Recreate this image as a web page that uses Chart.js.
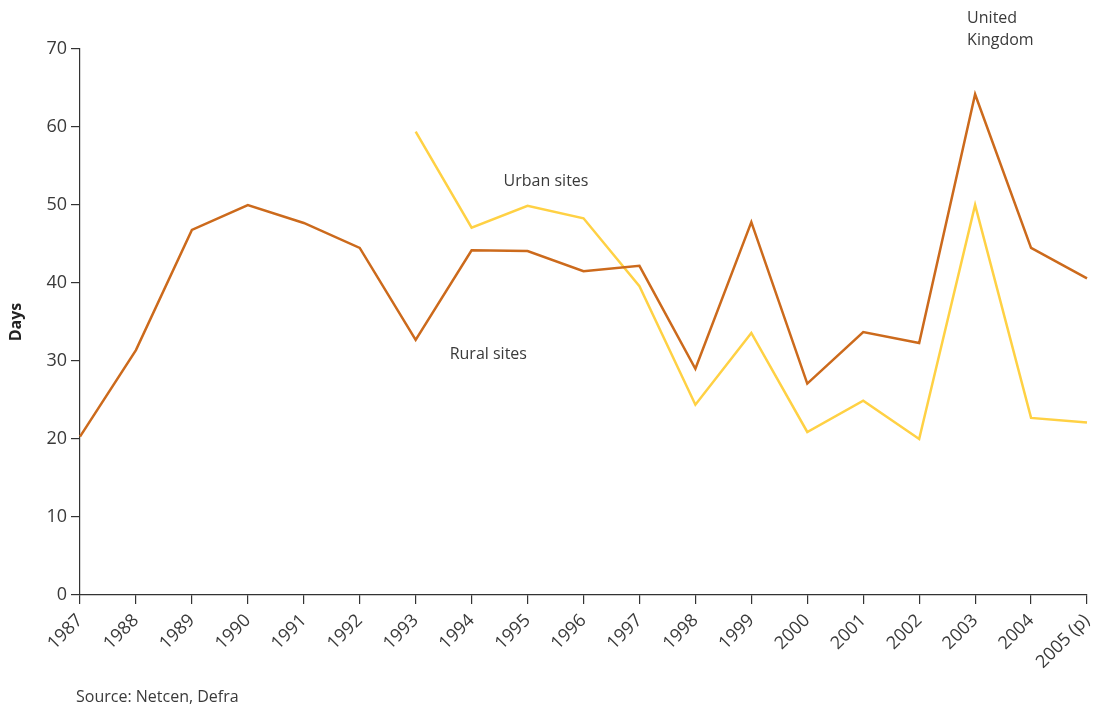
<!DOCTYPE html>
<html lang="en">
<head>
  <meta charset="UTF-8">
  <title>Days - Rural and Urban sites</title>
  <script src="https://cdn.jsdelivr.net/npm/chart.js"></script>
  <style>
    body { margin: 0; background: #ffffff; }
    #wrap { width: 1104px; height: 709px; position: relative; }
  </style>
</head>
<body>
  <div id="wrap"><canvas id="chart" width="1104" height="709"></canvas></div>

  <script>
    // Data
    const years = ['1987', '1988', '1989', '1990', '1991', '1992', '1993', '1994', '1995', '1996',
                   '1997', '1998', '1999', '2000', '2001', '2002', '2003', '2004', '2005 (p)'];
    const ruralDays = [20.3, 31.4, 46.8, 50.0, 47.7, 44.5, 32.7, 44.2, 44.1, 41.5,
                       42.2, 29.0, 47.8, 27.1, 33.7, 32.3, 64.2, 44.5, 40.6];
    const urbanDays = [null, null, null, null, null, null, 59.4, 47.1, 49.9, 48.3,
                       39.6, 24.4, 33.6, 20.9, 24.9, 20.0, 50.0, 22.7, 22.1];
    const yTicks = [0, 10, 20, 30, 40, 50, 60, 70];

    const textColor = '#3a3a3a';
    const axisColor = '#333333';
    const fontFamily = "'Open Sans', 'Noto Sans', sans-serif";

    // Text labels placed next to the lines (anchored on the axes)
    const annotations = {
      id: 'annotations',
      afterDraw(chart) {
        const { ctx, scales: { x, y } } = chart;
        ctx.save();
        ctx.fillStyle = textColor;
        ctx.font = `16px ${fontFamily}`;
        ctx.textBaseline = 'middle';
        ctx.textAlign = 'left';
        ctx.fillText('Urban sites', x.getPixelForValue(7) + 32, y.getPixelForValue(53));
        ctx.fillText('Rural sites', x.getPixelForValue(6) + 34, y.getPixelForValue(30.8));
        ctx.fillText('United', x.getPixelForValue(16) - 8, 18);
        ctx.fillText('Kingdom', x.getPixelForValue(16) - 8, 40);
        ctx.fillText('Source: Netcen, Defra', 76, 697);
        ctx.restore();
      }
    };

    new Chart(document.getElementById('chart'), {
      type: 'line',
      data: {
        labels: years,
        datasets: [
          {
            label: 'Rural sites',
            data: ruralDays,
            borderColor: '#cc6a1c',
            borderWidth: 2.5,
            pointRadius: 0,
            tension: 0
          },
          {
            label: 'Urban sites',
            data: urbanDays,
            borderColor: '#ffd144',
            borderWidth: 2.5,
            pointRadius: 0,
            tension: 0,
            spanGaps: false
          }
        ]
      },
      options: {
        responsive: false,
        animation: false,
        layout: { padding: { top: 49, right: 17, bottom: 0, left: 0 } },
        plugins: {
          legend: { display: false },
          tooltip: { enabled: false }
        },
        scales: {
          x: {
            offset: false,
            grid: { drawOnChartArea: false, tickLength: 9, color: axisColor, lineWidth: 1.2 },
            border: { display: true, color: axisColor, width: 1.2 },
            ticks: {
              color: textColor,
              font: { family: fontFamily, size: 18 },
              minRotation: 45,
              maxRotation: 45,
              autoSkip: false,
              padding: 6
            },
            afterFit(scale) {
              scale.height = 114;
              scale.paddingLeft = 0;
              scale.paddingRight = 0;
            }
          },
          y: {
            min: 0,
            max: 70,
            afterBuildTicks(scale) {
              scale.ticks = yTicks.map(v => ({ value: v }));
            },
            grid: { drawOnChartArea: false, tickLength: 9, color: axisColor, lineWidth: 1.2 },
            border: { display: true, color: axisColor, width: 1.2 },
            ticks: {
              color: textColor,
              font: { family: fontFamily, size: 18 },
              padding: 4
            },
            title: {
              display: true,
              text: 'Days',
              color: '#222222',
              font: { family: fontFamily, size: 16, weight: 'bold' },
              padding: { top: 7, bottom: 0 }
            },
            afterFit(scale) {
              scale.width = 80;
              scale.paddingTop = 0;
              scale.paddingBottom = 0;
            }
          }
        }
      },
      plugins: [annotations]
    });
  </script>
</body>
</html>
